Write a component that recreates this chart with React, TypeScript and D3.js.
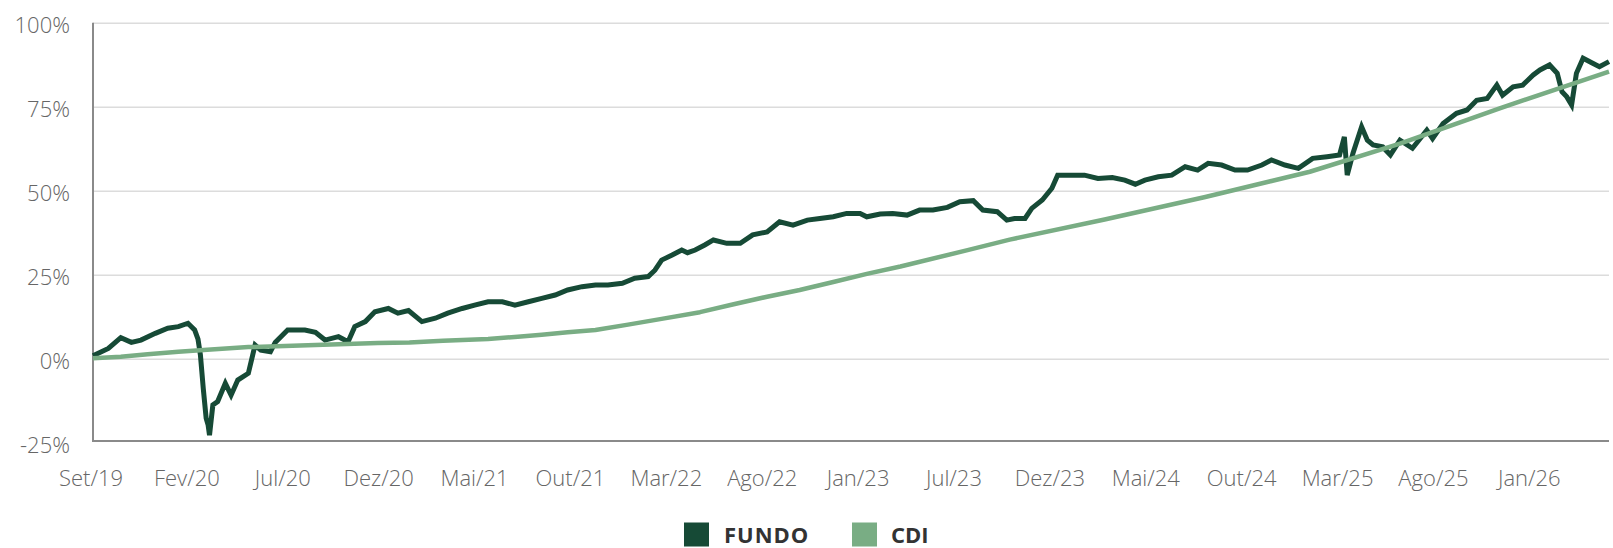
import React from 'react';
import * as d3 from 'd3';

const width = 1613;
const height = 548;
const plotLeft = 93;
const plotRight = 1609;
const axisBottomY = 441;

// x positions are in "steps": one x label every 10 steps
const stepsPerLabel = 10;
const lastStep = 158.1;

const xLabels = [
  'Set/19', 'Fev/20', 'Jul/20', 'Dez/20', 'Mai/21', 'Out/21', 'Mar/22', 'Ago/22',
  'Jan/23', 'Jul/23', 'Dez/23', 'Mai/24', 'Out/24', 'Mar/25', 'Ago/25', 'Jan/26',
];

const yTicks = [-25, 0, 25, 50, 75, 100];

// [step, % acumulado]
const fundo: [number, number][] = [
  [0, 1.0], [1.6, 3.2], [2.9, 6.4], [4.0, 5.0], [5.0, 5.7], [6.5, 7.7], [7.8, 9.2], [8.9, 9.7],
  [9.9, 10.7], [10.6, 8.7], [10.95, 6.0], [11.2, 1.3], [11.5, -8.7], [11.8, -17.6], [12.0, -19.5],
  [12.15, -22.6], [12.5, -13.6], [13.0, -12.6], [13.8, -7.2], [14.4, -10.7], [15.1, -6.2],
  [16.2, -4.2], [16.9, 4.2], [17.5, 2.7], [18.5, 2.2], [19.0, 5.0], [20.3, 8.7], [22.1, 8.7],
  [23.2, 8.0], [24.2, 5.7], [25.6, 6.7], [26.6, 5.2], [27.3, 9.7], [28.4, 11.2], [29.4, 14.1],
  [30.8, 15.1], [31.8, 13.7], [32.9, 14.5], [34.3, 11.2], [35.7, 12.2], [37.0, 13.7], [38.5, 15.1],
  [39.8, 16.1], [41.2, 17.1], [42.7, 17.1], [44.0, 16.1], [45.4, 17.1], [46.8, 18.1], [48.2, 19.1],
  [49.5, 20.6], [51.0, 21.6], [52.4, 22.1], [53.7, 22.1], [55.2, 22.6], [56.5, 24.1], [57.9, 24.6],
  [58.6, 26.5], [59.3, 29.5], [60.4, 31.0], [61.4, 32.5], [62.0, 31.7], [62.8, 32.5], [63.8, 34.0],
  [64.7, 35.5], [66.1, 34.5], [67.5, 34.5], [68.8, 37.0], [70.3, 37.9], [71.6, 40.9], [73.0, 39.9],
  [74.5, 41.4], [75.8, 41.9], [77.2, 42.4], [78.6, 43.4], [80.0, 43.4], [80.7, 42.4], [82.1, 43.2],
  [83.4, 43.4], [84.9, 42.9], [86.2, 44.4], [87.6, 44.4], [89.1, 45.2], [90.4, 46.9], [91.8, 47.2],
  [92.8, 44.4], [94.3, 43.9], [95.3, 41.4], [96.1, 41.9], [97.2, 41.9], [97.9, 44.9], [99.0, 47.4],
  [100.0, 50.9], [100.6, 54.8], [102.1, 54.8], [103.4, 54.8], [104.8, 53.8], [106.3, 54.1],
  [107.6, 53.3], [108.7, 52.1], [109.7, 53.3], [111.1, 54.3], [112.5, 54.8], [113.9, 57.3],
  [115.2, 56.3], [116.3, 58.3], [117.7, 57.8], [119.1, 56.3], [120.4, 56.3], [121.9, 57.8],
  [122.9, 59.3], [124.3, 57.8], [125.7, 56.8], [127.2, 59.8], [128.7, 60.3], [130.0, 60.8],
  [130.5, 66.2], [130.8, 54.8], [131.4, 61.3], [132.3, 69.2], [132.9, 65.2], [133.5, 63.8],
  [134.5, 63.2], [135.3, 60.8], [136.3, 65.2], [137.6, 62.8], [139.1, 68.2], [139.7, 65.7],
  [140.8, 70.2], [142.2, 73.2], [143.3, 74.2], [144.3, 77.1], [145.4, 77.6], [146.4, 81.6],
  [147.0, 78.6], [148.1, 81.1], [149.1, 81.6], [150.2, 84.6], [150.9, 86.1], [151.9, 87.6],
  [152.7, 85.1], [153.2, 79.6], [153.7, 78.1], [154.2, 75.7], [154.7, 85.1], [155.4, 89.6],
  [156.4, 88.1], [157.1, 87.1], [158.1, 88.6],
];

const cdi: [number, number][] = [
  [0, 0.3], [2.9, 0.7], [5.7, 1.5], [8.9, 2.2], [12.3, 2.9], [16.2, 3.6], [23.2, 4.2], [29.7, 4.8],
  [33.0, 5.0], [36.5, 5.5], [41.2, 6.0], [44.3, 6.7], [46.8, 7.3], [49.5, 8.0], [52.4, 8.7],
  [55.8, 10.3], [59.3, 12.0], [63.3, 14.0], [66.7, 16.3], [70.3, 18.6], [73.7, 20.6], [77.2, 23.0],
  [80.7, 25.4], [84.2, 27.6], [91.1, 32.4], [95.6, 35.6], [105.5, 41.6], [116.0, 48.3],
  [126.9, 55.8], [136.3, 64.2], [146.7, 74.7], [158.1, 85.6],
];

const seriesNames = ['FUNDO', 'CDI'];
const seriesColors = ['#164a36', '#79ad84'];

const fontFamily = '"Open Sans", "Noto Sans", sans-serif';

export default function App() {
  const x = d3.scaleLinear().domain([0, lastStep]).range([plotLeft, plotRight]);
  const y = d3.scaleLinear().domain([0, 100]).range([359.2, 23.3]);

  const line = d3.line<[number, number]>()
    .x(d => x(d[0]))
    .y(d => y(d[1]));

  return (
    <svg width={width} height={height} style={{ position: 'absolute', left: 0, top: 0 }}
      fontFamily={fontFamily}>
      <rect width={width} height={height} fill="#fff" />

      {/* grid */}
      {yTicks.filter(t => t > -25).map(t => (
        <line key={t} x1={plotLeft} x2={plotRight} y1={y(t)} y2={y(t)} stroke="#dcdcdc" strokeWidth={1.6} />
      ))}

      {/* y labels */}
      {yTicks.map(t => (
        <text key={t} x={70} y={y(t) + 1} textAnchor="end" dominantBaseline="central"
          fontSize={22} fontWeight={300} fill="#666">{t}%</text>
      ))}

      {/* axes */}
      <line x1={plotLeft} x2={plotLeft} y1={y(100) - 0.5} y2={axisBottomY} stroke="#8a8a8a" strokeWidth={2} />
      <line x1={plotLeft - 1} x2={plotRight} y1={axisBottomY} y2={axisBottomY} stroke="#8a8a8a" strokeWidth={2} />

      {/* x labels */}
      {xLabels.map((l, i) => (
        <text key={l} x={x(i * stepsPerLabel) - 2} y={486} textAnchor="middle"
          fontSize={22} fontWeight={300} fill="#666">{l}</text>
      ))}

      {/* series */}
      <path d={line(fundo) ?? ''} fill="none" stroke={seriesColors[0]} strokeWidth={5} strokeLinejoin="miter" strokeMiterlimit={3} />
      <path d={line(cdi) ?? ''} fill="none" stroke={seriesColors[1]} strokeWidth={4.5} strokeLinejoin="round" />

      {/* legend */}
      <g>
        <rect x={684} y={522.5} width={25} height={24} fill={seriesColors[0]} />
        <text x={724} y={543} fontSize={22} fontWeight={700} fill="#333" letterSpacing={1}>{seriesNames[0]}</text>
        <rect x={852} y={522.5} width={25} height={24} fill={seriesColors[1]} />
        <text x={891} y={543} fontSize={22} fontWeight={700} fill="#333">{seriesNames[1]}</text>
      </g>
    </svg>
  );
}
